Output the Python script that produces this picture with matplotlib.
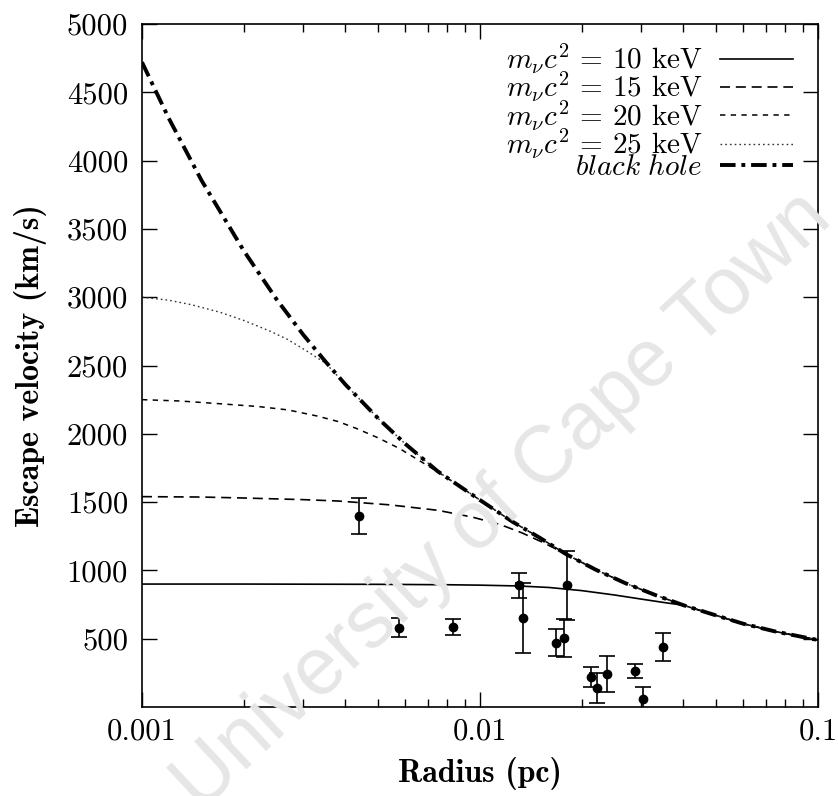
import matplotlib
matplotlib.use("Agg")
import matplotlib.pyplot as plt
from matplotlib.ticker import FixedLocator, FixedFormatter, LogLocator, NullFormatter

plt.rcParams['mathtext.fontset'] = 'cm'
plt.rcParams['font.family'] = 'cmr10'
plt.rcParams['axes.formatter.use_mathtext'] = True

# ---- data ----
r_bh = [0.001, 0.0012, 0.0015, 0.002, 0.0025, 0.003, 0.0035, 0.004, 0.005, 0.006,
        0.0075, 0.01, 0.0125, 0.015, 0.018, 0.022, 0.027, 0.033, 0.04, 0.05, 0.06,
        0.075, 0.1]
v_bh = [4720, 4310, 3855, 3340, 2985, 2725, 2525, 2360, 2112, 1928,
        1725, 1515, 1355, 1240, 1118, 1005, 905, 820, 745, 670, 610,
        552, 490]

r_25 = [0.001, 0.0012, 0.0014, 0.0017, 0.002, 0.0024, 0.0027, 0.0031, 0.0035, 0.004,
        0.005, 0.006, 0.0075, 0.01, 0.0125, 0.015, 0.018, 0.022, 0.027, 0.033, 0.04,
        0.05, 0.06, 0.075, 0.1]
v_25 = [3000, 2978, 2945, 2890, 2830, 2750, 2690, 2600, 2515, 2360,
        2112, 1928, 1725, 1515, 1355, 1240, 1118, 1005, 905, 820, 745,
        670, 610, 552, 490]

r_20 = [0.001, 0.0013, 0.0017, 0.0022, 0.0027, 0.0033, 0.0038, 0.0043, 0.005, 0.0058,
        0.0066, 0.0075, 0.01, 0.0125, 0.015, 0.018, 0.022, 0.027, 0.033, 0.04,
        0.05, 0.06, 0.075, 0.1]
v_20 = [2250, 2240, 2220, 2200, 2175, 2130, 2090, 2040, 1970, 1890,
        1805, 1722, 1515, 1355, 1240, 1118, 1005, 905, 820, 745,
        670, 610, 552, 490]

r_15 = [0.001, 0.0015, 0.002, 0.003, 0.0038, 0.0054, 0.0075, 0.0095, 0.0115, 0.0133,
        0.0155, 0.018, 0.022, 0.027, 0.033, 0.04, 0.05, 0.06, 0.075, 0.1]
v_15 = [1540, 1537, 1530, 1518, 1508, 1480, 1440, 1390, 1335, 1275,
        1200, 1118, 1005, 905, 820, 745, 670, 610, 552, 490]

r_10 = [0.001, 0.002, 0.005, 0.008, 0.01, 0.013, 0.016, 0.02, 0.025, 0.03,
        0.035, 0.04, 0.05, 0.06, 0.075, 0.1]
v_10 = [900, 900, 898, 895, 892, 886, 875, 852, 820, 790,
        765, 745, 670, 610, 552, 490]

obs_r = [0.0044, 0.00577, 0.00832, 0.0130, 0.0134, 0.01675, 0.0177, 0.0181,
         0.02125, 0.02215, 0.0237, 0.0288, 0.0303, 0.0349]
obs_v = [1400, 580, 585, 890, 650, 470, 505, 890, 220, 140, 240, 265, 55, 440]
obs_err = [130, 70, 60, 90, 255, 100, 140, 255, 75, 110, 130, 50, 95, 100]

labels = [r'$m_\nu c^2$ = 10 keV', r'$m_\nu c^2$ = 15 keV',
          r'$m_\nu c^2$ = 20 keV', r'$m_\nu c^2$ = 25 keV', r'$\mathit{black\ hole}$']
xtick_vals = [0.001, 0.01, 0.1]
xtick_labels = ['0.001', '0.01', '0.1']
ytick_vals = [500, 1000, 1500, 2000, 2500, 3000, 3500, 4000, 4500, 5000]
ytick_labels = [str(v) for v in ytick_vals]

# ---- figure ----
fig = plt.figure(figsize=(8.38, 7.96), dpi=100)
ax = fig.add_axes([142/838, 1-707/796, (818-142)/838, (707-24)/796])
ax.set_facecolor('none')

fig.text(0.60, 0.37, 'University of Cape Town', family='Liberation Sans',
         fontsize=58, color='#e6e6e6', rotation=43, ha='center', va='center', zorder=0)

ax.plot(r_10, v_10, color='black', lw=1.2, ls='-', label=labels[0])
ax.plot(r_15, v_15, color='black', lw=1.2, ls=(0, (6, 3.5)), label=labels[1])
ax.plot(r_20, v_20, color='black', lw=1.1, ls=(0, (3.5, 3.5)), label=labels[2])
ax.plot(r_25, v_25, color='#333333', lw=1.0, ls=(0, (1.2, 2.2)), label=labels[3])
ax.plot(r_bh, v_bh, color='black', lw=2.8, ls=(0, (4, 1.5, 1, 1.5)), label=labels[4])

ax.errorbar(obs_r, obs_v, yerr=obs_err, fmt='o', color='black', ms=6,
            elinewidth=1.2, capsize=6, capthick=1.2, zorder=5)

ax.set_xscale('log')
ax.set_xlim(0.001, 0.1)
ax.set_ylim(0, 5000)
ax.xaxis.set_major_locator(FixedLocator(xtick_vals))
ax.xaxis.set_major_formatter(FixedFormatter(xtick_labels))
ax.xaxis.set_minor_locator(LogLocator(base=10, subs=range(2, 10)))
ax.xaxis.set_minor_formatter(NullFormatter())
ax.yaxis.set_major_locator(FixedLocator(ytick_vals))
ax.yaxis.set_major_formatter(FixedFormatter(ytick_labels))

ax.tick_params(which='both', direction='in', top=True, right=True, labelsize=22)
ax.tick_params(axis='y', pad=10)
ax.tick_params(axis='x', pad=8)
ax.tick_params(which='major', length=11, width=1.0)
ax.tick_params(which='minor', length=6, width=1.0)
for s in ax.spines.values():
    s.set_linewidth(1.2)

ax.set_xlabel('Radius (pc)', family='cmb10', fontsize=23, labelpad=8)
ax.set_ylabel('Escape velocity (km/s)', family='cmb10', fontsize=23, labelpad=14)

leg = ax.legend(loc='upper right', bbox_to_anchor=(0.982, 0.993), frameon=False,
                markerfirst=False, fontsize=21,
                handlelength=2.5, labelspacing=-0.2, borderaxespad=0.25,
                handletextpad=0.6, borderpad=0.2)
for t in leg.get_texts():
    t.set_ha('right')

fig.savefig('out.png', dpi=100)
